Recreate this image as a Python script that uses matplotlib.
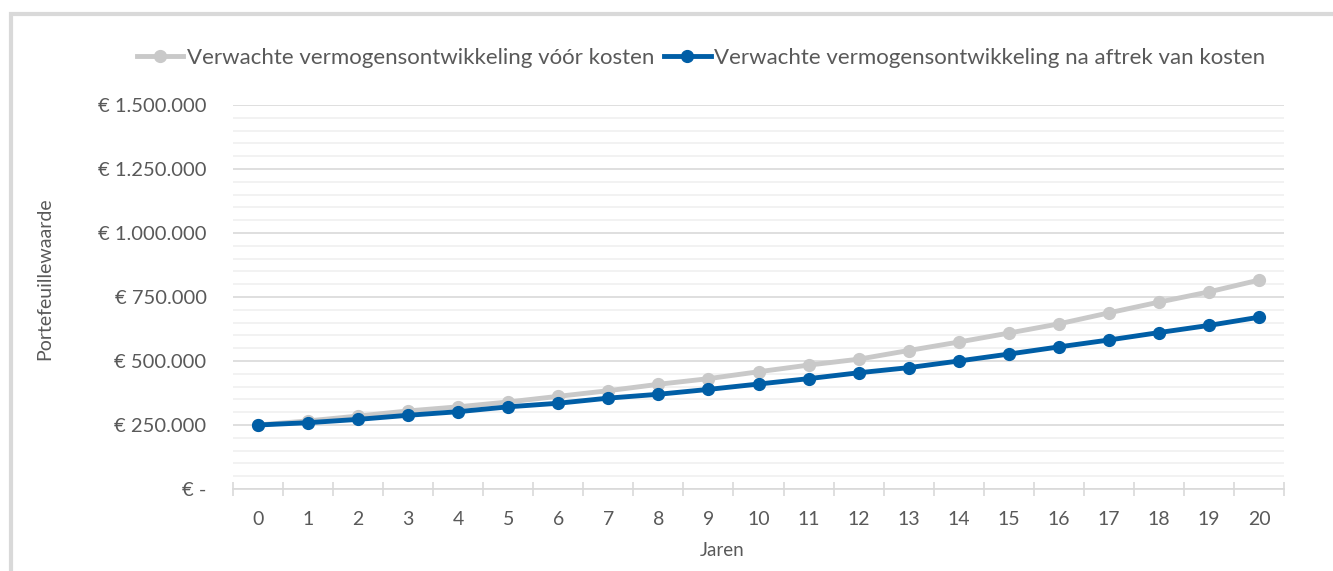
import matplotlib
matplotlib.use("Agg")
import matplotlib.pyplot as plt
from matplotlib.patches import Rectangle
from matplotlib.ticker import FuncFormatter, MultipleLocator

plt.rcParams['font.family'] = ['Lato', 'DejaVu Sans']

# data
jaren = list(range(21))
voor_kosten = [250000, 266000, 285000, 305000, 321000, 340000, 362000, 384000, 409000, 431000,
               458000, 484000, 507000, 541000, 574000, 609000, 645000, 688000, 730000, 770000, 816000]
na_kosten = [250000, 259000, 272000, 288000, 302000, 321000, 335000, 355000, 370000, 389000,
             410000, 431000, 454000, 474000, 500000, 527000, 555000, 582000, 611000, 639000, 671000]
labels = ["Verwachte vermogensontwikkeling vóór kosten",
          "Verwachte vermogensontwikkeling na aftrek van kosten"]

text_col = "#595959"
grey = "#c9c9c9"
blue = "#005ea6"

W, H = 1333, 571
fig = plt.figure(figsize=(W / 100, H / 100), dpi=100)
ax = fig.add_axes([233 / W, 1 - 489 / H, (1284 - 233) / W, (489 - 105) / H])

# chart area border (cut off on the right and bottom)
fig.patches.append(Rectangle((11 / W, -0.1), 1.2, 1.1 - 14 / H, transform=fig.transFigure,
                             fill=False, edgecolor="#d9d9d9", linewidth=3, zorder=0))

ax.plot(jaren, voor_kosten, color=grey, lw=3.5, marker='o', ms=8.5, label=labels[0], zorder=3)
ax.plot(jaren, na_kosten, color=blue, lw=3.5, marker='o', ms=8.5, label=labels[1], zorder=4)

ax.set_xlim(-0.5, 20.5)
ax.set_ylim(0, 1500000)

# gridlines
ax.yaxis.set_major_locator(MultipleLocator(250000))
ax.yaxis.set_minor_locator(MultipleLocator(50000))
ax.grid(axis='y', which='major', color="#d9d9d9", lw=1.2, zorder=0)
ax.grid(axis='y', which='minor', color="#f0f0f0", lw=1.2, zorder=0)
ax.set_axisbelow(True)

def euro(v, pos):
    if v == 0:
        return "€ -"
    return "€ " + f"{int(v):,}".replace(",", ".")

ax.yaxis.set_major_formatter(FuncFormatter(euro))
ax.tick_params(axis='y', which='both', length=0, pad=19, labelsize=14.5, labelcolor=text_col)

ax.set_xticks(jaren)
ax.set_xticks([x - 0.5 for x in range(22)], minor=True)
ax.tick_params(axis='x', which='major', length=0, pad=16, labelsize=14, labelcolor=text_col)
ax.tick_params(axis='x', which='minor', direction='inout', length=9.5, width=1.2, color="#d9d9d9")

for s in ['top', 'right', 'left']:
    ax.spines[s].set_visible(False)
ax.spines['bottom'].set_color("#d9d9d9")
ax.spines['bottom'].set_linewidth(1.2)

fig.text(45 / W, 1 - 279 / H, "Portefeuillewaarde", rotation=90, ha='center', va='center',
         fontsize=14, color=text_col)
fig.text(722 / W, 1 - 551 / H, "Jaren", ha='center', va='center', fontsize=13.5, color=text_col)

fig.legend(loc='center', bbox_to_anchor=(701 / W, 1 - 58 / H), ncol=2, frameon=False,
           fontsize=16, labelcolor=text_col, handlelength=2.1, handletextpad=0.15,
           columnspacing=0.45, borderpad=0)

fig.savefig("out.png", dpi=100)
